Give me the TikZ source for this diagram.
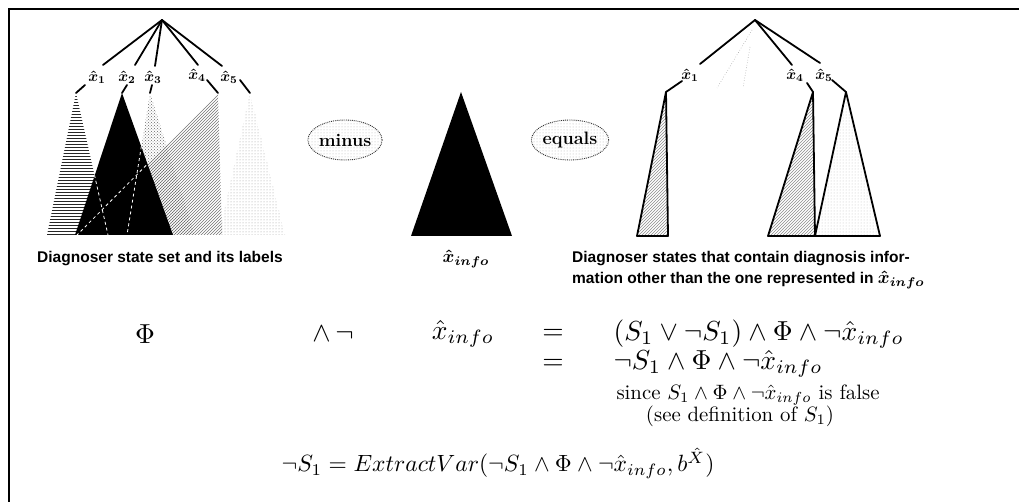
\documentclass[tikz,border=0pt]{standalone}
\usepackage{amsmath}
\usepackage{fontspec}
\newfontfamily\capfont{Liberation Sans}
\usetikzlibrary{patterns,shapes.geometric}
\tikzset{
  edge/.style={line width=1.8pt, line cap=round},
  tri/.style={line width=1.8pt, line join=round},
  lbl/.style={font=\normalsize\boldmath, scale=1.5, inner sep=0pt},
  captxt/.style={font=\capfont\bfseries\fontsize{15.5}{18}\selectfont, inner sep=0pt},
  mth/.style={font=\normalsize, scale=2.75, inner sep=0pt},
  botm/.style={font=\normalsize, scale=2.35, inner sep=0pt},
  small/.style={font=\normalsize, scale=2.08, inner sep=0pt},
  oval/.style={ellipse, draw=black!80, densely dotted, line width=0.9pt,
    pattern=dots, pattern color=black!30, inner sep=0pt,
    font=\fontsize{18}{20}\selectfont\bfseries},
  faint/.style={draw=black!35, dotted, line width=0.6pt},
  wdash/.style={draw=white, dashed, line width=0.8pt}
}
\begin{document}
\begin{tikzpicture}[x=1pt,y=-1pt]
\useasboundingbox (0,0) rectangle (1019,502);
% frame (top and left sides)
\draw[line width=1.6pt] (9,502) -- (9,9) -- (1019,9);

% ---------------- left tree ----------------
\coordinate (L0) at (162,20);
\coordinate (a1) at (76,93);  \coordinate (a2) at (122,93);
\coordinate (a3) at (150,93); \coordinate (a4) at (218,93);
\coordinate (a5) at (250,93);
\fill[pattern=horizontal lines, pattern color=black!85] (a1) -- (47,235) -- (108,235) -- cycle;
\fill[pattern=north east lines, pattern color=black!55] (a4) -- (77,235) -- (222,235) -- cycle;
\fill[pattern=dots, pattern color=black!40] (a5) -- (219,235) -- (285,235) -- cycle;
\fill[pattern=crosshatch dots, pattern color=black!60] (a3) -- (127,235) -- (195,235) -- cycle;
\fill[black] (a2) -- (75,235) -- (173,235) -- cycle;
\begin{scope}
  \clip (a2) -- (75,235) -- (173,235) -- cycle;
  \draw[wdash] (a1) -- (108,235);
  \draw[wdash] (a4) -- (77,235);
  \draw[wdash] (a3) -- (127,235);
\end{scope}
\node[lbl] (l1) at (97,77) {$\hat{x}_1$};
\node[lbl] (l2) at (127,77) {$\hat{x}_2$};
\node[lbl] (l3) at (153,77) {$\hat{x}_3$};
\node[lbl] (l4) at (197,75) {$\hat{x}_4$};
\node[lbl] (l5) at (229,77) {$\hat{x}_5$};
\coordinate (e1) at (103,65); \coordinate (e2) at (135,65);
\coordinate (e3) at (155,66); \coordinate (e4) at (198,65);
\coordinate (e5) at (222,66);
\foreach \i in {1,...,5} \draw[edge] (L0) -- (e\i);
\coordinate (f1) at (85,85);  \coordinate (f2) at (127,85);
\coordinate (f3) at (152,85); \coordinate (f4) at (207,80);
\coordinate (f5) at (240,80);
\foreach \i in {1,...,5} \draw[edge] (f\i) -- (a\i);

% ---------------- operators ----------------
\node[oval, minimum width=69pt, minimum height=40pt] (minus) at (345,140) {minus};
\node[oval, minimum width=74pt, minimum height=40pt] (equals) at (570,140) {equals};

% ---------------- middle triangle ----------------
\coordinate (m0) at (461,92);
\fill[black] (m0) -- (411,236) -- (512,236) -- cycle;

% ---------------- right tree ----------------
\coordinate (R0) at (755,20);
\coordinate (b1) at (666,92); \coordinate (b4) at (813,92); \coordinate (b5) at (846,92);
\draw[faint] (752,30) -- (717,88);
\draw[faint] (750,47) -- (743,88);
\filldraw[tri, pattern=north east lines, pattern color=black!45] (b1) -- (637,236) -- (668,236) -- cycle;
\filldraw[tri, pattern=north east lines, pattern color=black!45] (b4) -- (768,236) -- (815,236) -- cycle;
\filldraw[tri, pattern=dots, pattern color=black!25] (b5) -- (815,236) -- (880,236) -- cycle;
\node[lbl] (r1) at (690,75) {$\hat{x}_1$};
\node[lbl] (r4) at (795,75) {$\hat{x}_4$};
\node[lbl] (r5) at (824,75) {$\hat{x}_5$};
\coordinate (g1) at (700,64); \coordinate (g4) at (792,65); \coordinate (g5) at (820,63);
\foreach \i in {1,4,5} \draw[edge] (R0) -- (g\i);
\coordinate (h1) at (682,81); \coordinate (h4) at (807,83); \coordinate (h5) at (832,80);
\foreach \i in {1,4,5} \draw[edge] (h\i) -- (b\i);

% ---------------- captions ----------------
\node[captxt] (c1) at (160,259) {Diagnoser state set and its labels};
\node[lbl, scale=1.2] (c2) at (466,259) {$\hat{x}_{info}$};
\node[captxt, anchor=west] (c3) at (572,259) {Diagnoser states that contain diagnosis infor-};
\node[captxt, anchor=west] (c4) at (572,280) {mation other than the one represented in \scalebox{1.8}{\normalsize\boldmath$\hat{x}_{info}$}};

% ---------------- equations ----------------
\node[mth] (phi) at (145,334) {$\Phi$};
\node[mth] (andnot) at (333,334) {$\wedge\,\neg$};
\node[mth] (xinfo) at (463,334) {$\hat{x}_{info}$};
\node[mth] (eq1) at (553,334) {$=$};
\node[mth] (eq2) at (553,364) {$=$};
\node[mth, anchor=west] (row1) at (613,334) {$(S_1\vee\neg S_1)\wedge\Phi\wedge\neg\hat{x}_{info}$};
\node[mth, anchor=west] (row2) at (613,364) {$\neg S_1\wedge\Phi\wedge\neg\hat{x}_{info}$};
\node[small] (since) at (748,395) {since $S_1\wedge\Phi\wedge\neg\hat{x}_{info}$ is false};
\node[small] (see) at (740,416) {(see definition of $S_1$)};
\node[botm] (bottom) at (498,463) {$\neg S_1 = ExtractVar(\neg S_1\wedge\Phi\wedge\neg\hat{x}_{info}, b^{\hat{X}})$};
\end{tikzpicture}
\end{document}
